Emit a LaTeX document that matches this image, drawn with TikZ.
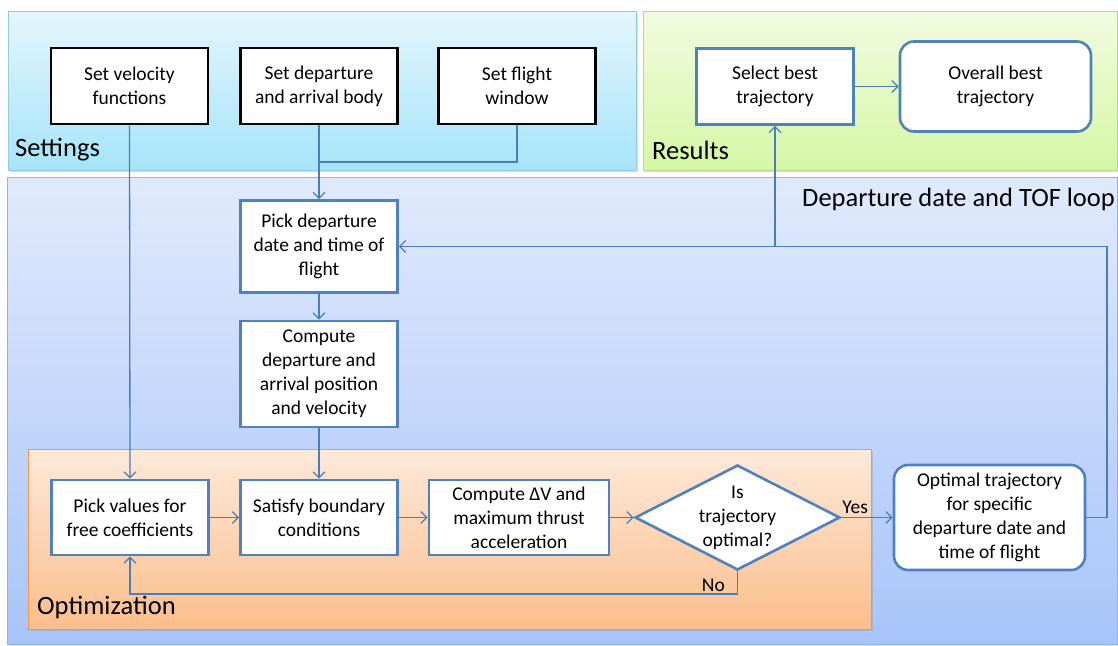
\documentclass[tikz,border=0pt]{standalone}
\usepackage{fontspec}
\setmainfont{Carlito}
\usetikzlibrary{arrows.meta, shapes.geometric, shadows}

\definecolor{linkblue}{HTML}{4A7EBB}
\definecolor{boxblue}{HTML}{4F81BD}
\definecolor{setedge}{HTML}{93CDDD}
\definecolor{settop}{HTML}{E3F6FD}
\definecolor{setbot}{HTML}{A6E4F9}
\definecolor{resedge}{HTML}{B5D98A}
\definecolor{restop}{HTML}{F2FBE0}
\definecolor{resbot}{HTML}{D5F7A5}
\definecolor{loopedge}{HTML}{8EB4E3}
\definecolor{looptop}{HTML}{E0EAFC}
\definecolor{loopbot}{HTML}{A8C4FA}
\definecolor{optedge}{HTML}{F79646}
\definecolor{opttop}{HTML}{FDE9D9}
\definecolor{optbot}{HTML}{FBBE8C}

\begin{document}
\begin{tikzpicture}[x=1pt,y=-1pt,
		every node/.style={font=\fontsize{19.5}{24}\selectfont, align=center, inner sep=0pt},
		setbox/.style={draw=black, line width=2.6pt, fill=white},
		stepbox/.style={draw=boxblue, line width=2.6pt, fill=white},
		endbox/.style={stepbox, rounded corners=14pt},
		askbox/.style={stepbox, diamond, aspect=1.95},
		link/.style={draw=linkblue, line width=1.3pt, -{Straight Barb[length=6pt,width=12pt]}},
		panel/.style={line width=0.8pt, drop shadow={opacity=0.25, shadow xshift=1.5pt, shadow yshift=-2pt}},
		paneltitle/.style={font=\fontsize{26.5}{30}\selectfont, anchor=west}]
		\useasboundingbox (0,0) rectangle (1118,645);

		% panels
		\shadedraw[panel, draw=setedge, top color=settop, bottom color=setbot] (8,11) rectangle (636,170);
		\shadedraw[panel, draw=resedge, top color=restop, bottom color=resbot] (643,11) rectangle (1117,170);
		\shadedraw[panel, draw=loopedge, top color=looptop, bottom color=loopbot] (7,177) rectangle (1117,644);
		\shadedraw[panel, draw=optedge, top color=opttop, bottom color=optbot] (28,449) rectangle (871,629);

		\node[paneltitle] (settingslbl) at (15,150) {Settings};
		\node[paneltitle] (resultslbl) at (652,150) {Results};
		\node[paneltitle] (looplbl) at (802,199) {Departure date and TOF loop};
		\node[paneltitle] (optlbl) at (37,607) {Optimization};

		% settings
		\node[setbox, minimum width=157pt, minimum height=76pt] (velo) at (129.5,86) {Set velocity\\functions};
		\node[setbox, minimum width=157pt, minimum height=76pt] (body) at (319,86) {Set departure\\and arrival body};
		\node[setbox, minimum width=157pt, minimum height=76pt] (window) at (517,86) {Set flight\\window};

		% results
		\node[stepbox, minimum width=157pt, minimum height=76pt] (select) at (775,86.5) {Select best\\trajectory};
		\node[endbox, minimum width=191pt, minimum height=90pt] (overall) at (995.5,86.5) {Overall best\\trajectory};

		% loop
		\node[stepbox, minimum width=157pt, minimum height=92pt] (pickdep) at (319,246.5) {Pick departure\\date and time of\\flight};
		\node[stepbox, minimum width=157pt, minimum height=106pt] (compute) at (319,374) {Compute\\departure and\\arrival position\\and velocity};

		% optimization
		\node[stepbox, minimum width=157pt, minimum height=75pt] (pickval) at (130,517.5) {Pick values for\\free coefficients};
		\node[stepbox, minimum width=157pt, minimum height=75pt] (satisfy) at (319,517.5) {Satisfy boundary\\conditions};
		\node[stepbox, minimum width=180pt, minimum height=75pt] (deltav) at (519,517.5) {Compute ΔV and\\maximum thrust\\acceleration};
		\node[askbox, minimum width=205pt, minimum height=105pt] (optq) at (737.5,517.5) {Is\\trajectory\\optimal?};
		\node[endbox, minimum width=191pt, minimum height=105pt] (optimal) at (989.5,517.5) {Optimal trajectory\\for specific\\departure date and\\time of flight};

		\coordinate (join) at (319,162);
		\coordinate (noturn) at (737.5,594);
		\coordinate (loopr) at (1107,246.5);
		\coordinate (loopmid) at (775,246.5);

		\draw[link] (velo.south) -- (pickval.north);
		\draw[link] (body.south) -- (pickdep.north);
		\draw[link, -] (window.south) |- (join);
		\draw[link] (pickdep.south) -- (compute.north);
		\draw[link] (compute.south) -- (satisfy.north);
		\draw[link] (pickval.east) -- (satisfy.west);
		\draw[link] (satisfy.east) -- (deltav.west);
		\draw[link] (deltav.east) -- (optq.west);
		\draw[link] (optq.east) -- node[pos=0.27, anchor=south, inner sep=3pt] {Yes} (optimal.west);
		\draw[link] (optq.south) -- (noturn) node[above left, inner sep=2pt, xshift=-10pt] {No} -| (pickval.south);
		\draw[link] (optimal.east) -| (loopr) -- (pickdep.east);
		\draw[link] (loopmid) -- (select.south);
		\draw[link] (select.east) -- (overall.west);
	\end{tikzpicture}
\end{document}
